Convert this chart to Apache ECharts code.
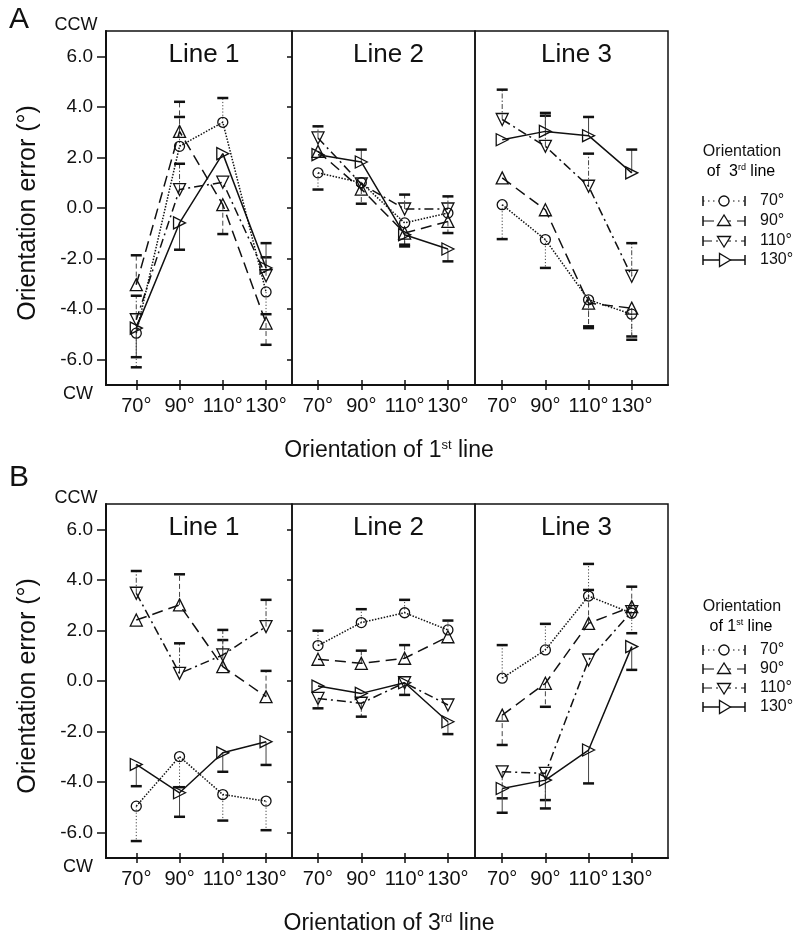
<!DOCTYPE html>
<html><head><meta charset="utf-8">
<script src="https://cdn.jsdelivr.net/npm/echarts@6/dist/echarts.min.js"></script>
<style>html,body{margin:0;padding:0;background:#fff}#c{width:797px;height:931px}</style>
</head><body><div id="c"></div>
<script>
// ---------- data ----------
const xTicks = [70, 90, 110, 130];
const yTicks = [-6, -4, -2, 0, 2, 4, 6];
const seriesNames = ['70°', '90°', '110°', '130°'];
const panelTitles = ['Line 1', 'Line 2', 'Line 3'];

// Panel A: series = orientation of 3rd line, x = orientation of 1st line
const A1_mean = [
  [-4.95, 2.44, 3.39, -3.32],
  [-3.03, 3.03, 0.13, -4.55],
  [-4.42, 0.73, 1.02, -2.68],
  [-4.75, -0.59, 2.15, -2.37]
];
const A1_err = [
  [-6.3, 3.6, 4.35, -4.2],
  [-1.87, 4.2, -1.03, -5.41],
  [-3.47, 1.75, null, -1.95],
  [-5.9, -1.65, null, -1.39]
];
const A2_mean = [
  [1.39, 1.0, -0.59, -0.2],
  [2.24, 0.75, -0.99, -0.53],
  [2.77, 0.95, -0.04, -0.04],
  [2.11, 1.82, -1.06, -1.62]
];
const A2_err = [
  [0.73, null, null, null],
  [null, 0.17, -1.52, -0.99],
  [3.23, null, 0.53, 0.46],
  [null, 2.31, -1.45, -2.11]
];
const A3_mean = [
  [0.13, -1.25, -3.63, -4.2],
  [1.19, -0.07, -3.76, -3.96],
  [3.5, 2.44, 0.86, -2.7],
  [2.7, 3.03, 2.86, 1.39]
];
const A3_err = [
  [-1.23, -2.37, -4.68, -5.08],
  [null, null, -4.75, -5.21],
  [4.68, 3.65, 2.15, -1.39],
  [null, 3.76, 3.6, 2.31]
];
// Panel B: series = orientation of 1st line, x = orientation of 3rd line
const B1_mean = [
  [-4.95, -2.99, -4.49, -4.75],
  [2.41, 3.01, 0.57, -0.62],
  [3.47, 0.3, 1.03, 2.15],
  [-3.3, -4.42, -2.84, -2.4]
];
const B1_err = [
  [-6.33, -4.2, -5.52, -5.9],
  [null, 4.22, 1.62, 0.4],
  [4.35, 1.49, 2.02, 3.21],
  [-4.16, -5.37, -3.59, -3.32]
];
const B2_mean = [
  [1.4, 2.31, 2.7, 2.02],
  [0.86, 0.7, 0.9, 1.75],
  [-0.69, -0.88, -0.07, -0.95],
  [-0.2, -0.49, -0.07, -1.61]
];
const B2_err = [
  [1.99, 2.84, 3.21, 2.39],
  [null, 1.2, 1.42, null],
  [-1.08, -1.41, null, null],
  [null, null, -0.55, -2.1]
];
const B3_mean = [
  [0.11, 1.23, 3.36, 2.68],
  [-1.35, -0.09, 2.28, 2.94],
  [-3.59, -3.65, 0.83, 2.74],
  [-4.25, -3.92, -2.73, 1.36]
];
const B3_err = [
  [1.42, 2.26, 4.63, 1.89],
  [-2.53, -1.02, 3.6, 3.73],
  [-4.64, -4.71, null, null],
  [-5.21, -5.04, -4.05, 0.44]
];

// ---------- layout / style ----------
const FONT = 'Liberation Sans, Arial, Helvetica, sans-serif';
const INK = '#111';
const panelTops = [31, 504];
const panelH = 354;
const cols = [
  {left: 106, width: 186, min: 56, max: 142},
  {left: 292, width: 183, min: 58, max: 142.5},
  {left: 475, width: 193, min: 57.4, max: 146.8}
];
const panelData = [
  [[A1_mean, A1_err], [A2_mean, A2_err], [A3_mean, A3_err]],
  [[B1_mean, B1_err], [B2_mean, B2_err], [B3_mean, B3_err]]
];
const lineDash = ['dotted', [11, 6], [9, 4, 2, 4], 'solid'];
const lineDashArr = [[1.5, 3.5], [11, 6], [9, 4, 2, 4], null];
const errDash = [[1.2, 2], [5, 3], [5, 2, 1.5, 2], null];
const symbols = ['circle', 'triangle', 'triangle', 'triangle'];
const symRot = [0, 0, 180, -90];
const symSize = [10, 12, 12, 12];

const grids = [], xAxes = [], yAxes = [], series = [], graphics = [];

panelTops.forEach((top, p) => {
  cols.forEach((c, ci) => {
    const g = grids.length;
    grids.push({left: c.left, top: top, width: c.width, height: panelH, show: true,
      borderColor: INK, borderWidth: 1.5, backgroundColor: 'transparent'});
    const xi = xAxes.length;
    xAxes.push({gridIndex: g, type: 'value', position: 'bottom', min: c.min, max: c.max,
      axisLine: {show: true, onZero: false, lineStyle: {color: INK, width: 2}},
      axisTick: {show: true, customValues: xTicks, length: 5, lineStyle: {color: INK, width: 1.5}},
      axisLabel: {show: true, customValues: xTicks, formatter: v => v + '°', margin: 11,
        fontSize: 20, color: INK, fontFamily: FONT},
      splitLine: {show: false}});
    xAxes.push({gridIndex: g, type: 'value', position: 'bottom', min: c.min, max: c.max,
      axisLine: {show: false, onZero: false},
      axisTick: {show: true, inside: true, customValues: xTicks, length: 5, lineStyle: {color: INK, width: 1.5}},
      axisLabel: {show: false}, splitLine: {show: false}});
    const yi = yAxes.length;
    if (ci === 0) {
      yAxes.push({gridIndex: g, type: 'value', min: -7, max: 7,
        axisLine: {show: true, onZero: false, lineStyle: {color: INK, width: 2}},
        axisTick: {show: true, customValues: yTicks, length: 9, lineStyle: {color: INK, width: 1.5}},
        axisLabel: {show: true, customValues: yTicks, formatter: v => v.toFixed(1), margin: 13,
          fontSize: 19, color: INK, fontFamily: FONT},
        splitLine: {show: false}});
      yAxes.push({gridIndex: g, type: 'value', min: -7, max: 7,
        axisLine: {show: false, onZero: false},
        axisTick: {show: true, inside: true, customValues: yTicks, length: 5, lineStyle: {color: INK, width: 1.5}},
        axisLabel: {show: false}, splitLine: {show: false}});
    } else {
      yAxes.push({gridIndex: g, type: 'value', min: -7, max: 7,
        axisLine: {show: false, onZero: false}, axisTick: {show: false}, axisLabel: {show: false}, splitLine: {show: false}});
    }
    const [means, errs] = panelData[p][ci];
    means.forEach((vals, si) => {
      const edata = [];
      xTicks.forEach((x, k) => { if (errs[si][k] != null) edata.push([x, vals[k], errs[si][k]]); });
      series.push({
        type: 'custom', xAxisIndex: xi, yAxisIndex: yi, silent: true, z: 2,
        encode: {x: 0, y: [1, 2]}, data: edata,
        renderItem: (params, api) => {
          const p0 = api.coord([api.value(0), api.value(1)]);
          const p1 = api.coord([api.value(0), api.value(2)]);
          return {type: 'group', children: [
            {type: 'line', shape: {x1: p0[0], y1: p0[1], x2: p1[0], y2: p1[1]},
              style: {stroke: '#444', lineWidth: 1, lineDash: errDash[si]}},
            {type: 'line', shape: {x1: p1[0] - 5.5, y1: p1[1], x2: p1[0] + 5.5, y2: p1[1]},
              style: {stroke: INK, lineWidth: 2.5}}
          ]};
        }
      });
      series.push({
        type: 'line', name: seriesNames[si], xAxisIndex: xi, yAxisIndex: yi, z: 3,
        data: xTicks.map((x, k) => [x, vals[k]]),
        symbol: symbols[si], symbolRotate: symRot[si], symbolSize: symSize[si], showAllSymbol: true,
        lineStyle: {color: INK, width: 1.5, type: lineDash[si]},
        itemStyle: {color: 'rgba(255,255,255,0)', borderColor: INK, borderWidth: 1.3},
        emphasis: {disabled: true}
      });
    });
    graphics.push({type: 'text', x: c.left + c.width / 2 + 5, y: top + 24,
      style: {text: panelTitles[ci], fontSize: 26, fontFamily: FONT, fill: INK, align: 'center', verticalAlign: 'middle'}});
  });
});

// labels
const letters = ['A', 'B'];
const xNames = [['Orientation of 1', 'st', ' line'], ['Orientation of 3', 'rd', ' line']];
const legTitles = [['of  3', 'rd', ' line'], ['of 1', 'st', ' line']];
const legTitleY = [[152, 172], [607, 627]];
const legRowY = [[201, 221, 241, 260], [650, 669, 688, 707]];
panelTops.forEach((top, p) => {
  graphics.push({type: 'text', x: 19, y: p === 0 ? 20 : 478,
    style: {text: letters[p], fontSize: 30, fontFamily: FONT, fill: INK, align: 'center', verticalAlign: 'middle'}});
  graphics.push({type: 'text', x: 76, y: top - 6,
    style: {text: 'CCW', fontSize: 18, fontFamily: FONT, fill: INK, align: 'center', verticalAlign: 'middle'}});
  graphics.push({type: 'text', x: 78, y: top + panelH + 9,
    style: {text: 'CW', fontSize: 18, fontFamily: FONT, fill: INK, align: 'center', verticalAlign: 'middle'}});
  graphics.push({type: 'text', x: 28, y: top + 182, rotation: Math.PI / 2,
    style: {text: 'Orientation error (°)', fontSize: 25, fontFamily: FONT, fill: INK, align: 'center', verticalAlign: 'middle'}});
  const xn = xNames[p];
  graphics.push({type: 'text', x: 389, y: top + panelH + 66,
    style: {text: '{n|' + xn[0] + '}{s|' + xn[1] + '}{n|' + xn[2] + '}', align: 'center', verticalAlign: 'middle',
      rich: {n: {fontSize: 23, fontFamily: FONT, fill: INK, color: INK},
             s: {fontSize: 13, fontFamily: FONT, fill: INK, color: INK, padding: [0, 0, 12, 0]}}}});
  // legend
  graphics.push({type: 'text', x: 742, y: legTitleY[p][0],
    style: {text: 'Orientation', fontSize: 16, fontFamily: FONT, fill: INK, align: 'center', verticalAlign: 'middle'}});
  const lt = legTitles[p];
  graphics.push({type: 'text', x: 741, y: legTitleY[p][1],
    style: {text: '{n|' + lt[0] + '}{s|' + lt[1] + '}{n|' + lt[2] + '}', align: 'center', verticalAlign: 'middle',
      rich: {n: {fontSize: 16, fontFamily: FONT, color: INK}, s: {fontSize: 9, fontFamily: FONT, color: INK, padding: [0, 0, 8, 0]}}}});
  legRowY[p].forEach((y, si) => {
    const x0 = 703, x1 = 745, cx = 724;
    graphics.push({type: 'line', shape: {x1: x0, y1: y, x2: x1, y2: y},
      style: {stroke: INK, lineWidth: si === 3 ? 1.5 : 1, lineDash: lineDashArr[si] || null}});
    graphics.push({type: 'line', shape: {x1: x0, y1: y - 5, x2: x0, y2: y + 5}, style: {stroke: INK, lineWidth: 1.5}});
    graphics.push({type: 'line', shape: {x1: x1, y1: y - 5, x2: x1, y2: y + 5}, style: {stroke: INK, lineWidth: 1.5}});
    let mk;
    if (si === 0) mk = {type: 'circle', shape: {cx: cx, cy: y, r: 5}};
    else if (si === 1) mk = {type: 'polygon', shape: {points: [[cx, y - 6], [cx - 6.5, y + 4.5], [cx + 6.5, y + 4.5]]}};
    else if (si === 2) mk = {type: 'polygon', shape: {points: [[cx, y + 6], [cx - 6.5, y - 4.5], [cx + 6.5, y - 4.5]]}};
    else mk = {type: 'polygon', shape: {points: [[cx + 6.5, y], [cx - 4.5, y - 6.5], [cx - 4.5, y + 6.5]]}};
    mk.style = {fill: '#fff', stroke: INK, lineWidth: 1.3};
    graphics.push(mk);
    graphics.push({type: 'text', x: 760, y: y,
      style: {text: seriesNames[si], fontSize: 16, fontFamily: FONT, fill: INK, align: 'left', verticalAlign: 'middle'}});
  });
});

const chart = echarts.init(document.getElementById('c'), null, {renderer: 'canvas'});
chart.setOption({
  animation: false,
  backgroundColor: '#fff',
  textStyle: {fontFamily: FONT},
  grid: grids, xAxis: xAxes, yAxis: yAxes, series: series, graphic: graphics
});
</script></body></html>
